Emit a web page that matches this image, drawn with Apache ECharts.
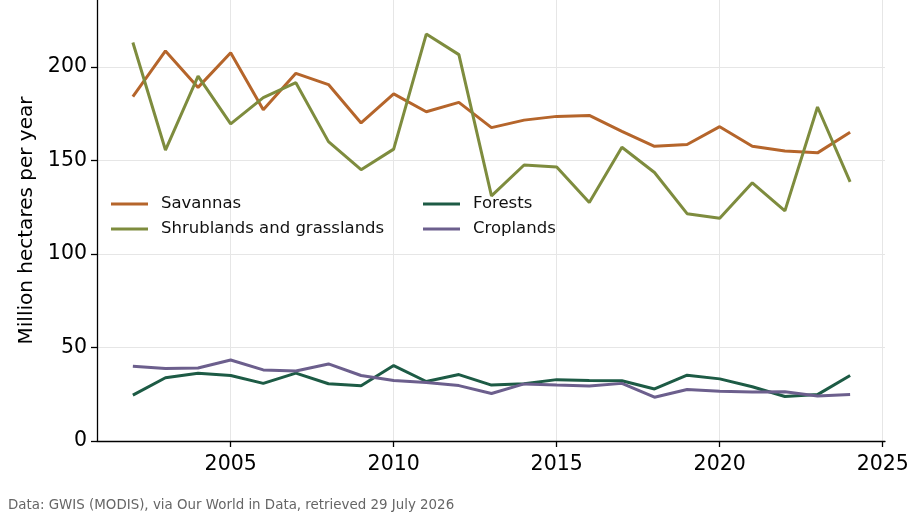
<!DOCTYPE html>
<html>
<head>
<meta charset="utf-8">
<script src="https://cdn.jsdelivr.net/npm/echarts@6/dist/echarts.min.js"></script>
<style>
    html, body { margin: 0; padding: 0; background: #fff; }
    #chart { width: 915px; height: 523px; }
</style>
</head>
<body>
<div id="chart"></div>
<script>
// years on the x axis
const years = [2002, 2003, 2004, 2005, 2006, 2007, 2008, 2009, 2010, 2011, 2012, 2013,
    2014, 2015, 2016, 2017, 2018, 2019, 2020, 2021, 2022, 2023, 2024]

// million hectares burned per year
const savannas = [184, 208.5, 189, 207.5, 177, 196.5, 190.5, 170, 185.5, 176, 181, 167.5,
    171.5, 173.5, 174, 165.5, 157.5, 158.5, 168, 157.5, 155, 154, 165]
const shrublands = [213, 155.5, 195, 169.5, 183.5, 191.5, 160, 145, 156, 217.5, 206.5, 131,
    147.5, 146.5, 127.5, 157, 143.5, 121.5, 119, 138, 123, 178.5, 138.5]
const forests = [24.5, 33.8, 36.2, 35, 30.8, 36.3, 30.6, 29.5, 40.3, 31.8, 35.5, 29.9,
    30.6, 32.8, 32.4, 32.2, 27.8, 35.2, 33.2, 29, 23.8, 24.8, 35]
const croplands = [40, 38.8, 39, 43.3, 38, 37.4, 41.2, 35, 32.3, 31.3, 29.6, 25.4,
    30.5, 29.9, 29.4, 30.8, 23.4, 27.5, 26.6, 26.2, 26.3, 24, 24.8]

const xTicks = [2005, 2010, 2015, 2020, 2025]
const yTicks = [0, 50, 100, 150, 200]

const font = 'DejaVu Sans'

function pairs(values) {
    return values.map((v, i) => [years[i], v])
}

function lineSeries(name, values, color) {
    return {
        name: name,
        type: 'line',
        data: pairs(values),
        showSymbol: false,
        symbol: 'none',
        lineStyle: { color: color, width: 3 },
        itemStyle: { color: color },
        z: 3
    }
}

const chart = echarts.init(document.getElementById('chart'), null, { renderer: 'canvas' })

const legendBase = {
    orient: 'vertical',
    icon: 'rect',
    itemWidth: 37,
    itemHeight: 3,
    itemGap: 5,
    textStyle: {
        fontFamily: font,
        fontSize: 16.5,
        color: '#111',
        lineHeight: 20,
        padding: [0, 0, 0, 8]
    }
}

chart.setOption({
    animation: false,
    grid: { left: 97, right: 30, top: 0, bottom: 82, containLabel: false },
    legend: [
        Object.assign({}, legendBase, { left: 106, top: 189, data: ['Savannas', 'Shrublands and grasslands'] }),
        Object.assign({}, legendBase, { left: 418, top: 189, data: ['Forests', 'Croplands'] })
    ],
    xAxis: {
        type: 'value',
        min: 2000.9,
        max: 2025.07,
        axisLine: { show: true, lineStyle: { color: '#000', width: 1.3 } },
        axisTick: { show: true, inside: false, length: 6, customValues: xTicks, lineStyle: { color: '#000', width: 1.3 } },
        axisLabel: {
            customValues: xTicks,
            color: '#000',
            fontFamily: font,
            fontSize: 20.5,
            margin: 13,
            formatter: v => String(v)
        },
        splitLine: { show: true, lineStyle: { color: '#e6e6e6', width: 1 } }
    },
    yAxis: {
        type: 'value',
        min: 0,
        max: 235.7,
        name: 'Million hectares per year',
        nameLocation: 'middle',
        nameGap: 60,
        nameTextStyle: { fontFamily: font, fontSize: 20, color: '#000' },
        axisLine: { show: true, lineStyle: { color: '#000', width: 1.3 } },
        axisTick: { show: true, inside: false, length: 6, customValues: yTicks, lineStyle: { color: '#000', width: 1.3 } },
        axisLabel: {
            customValues: yTicks,
            color: '#000',
            fontFamily: font,
            fontSize: 20.5,
            margin: 10
        },
        splitLine: { show: true, lineStyle: { color: '#e6e6e6', width: 1 } }
    },
    graphic: [{
        type: 'text',
        left: 8,
        top: 499,
        style: {
            text: 'Data: GWIS (MODIS), via Our World in Data, retrieved 29 July 2026',
            fontFamily: font,
            fontSize: 13.4,
            fill: '#666'
        }
    }],
    series: [
        lineSeries('Savannas', savannas, '#b5652b'),
        lineSeries('Shrublands and grasslands', shrublands, '#7e8c3e'),
        lineSeries('Forests', forests, '#1d5b45'),
        lineSeries('Croplands', croplands, '#6c5f8d')
    ]
})
</script>
</body>
</html>
